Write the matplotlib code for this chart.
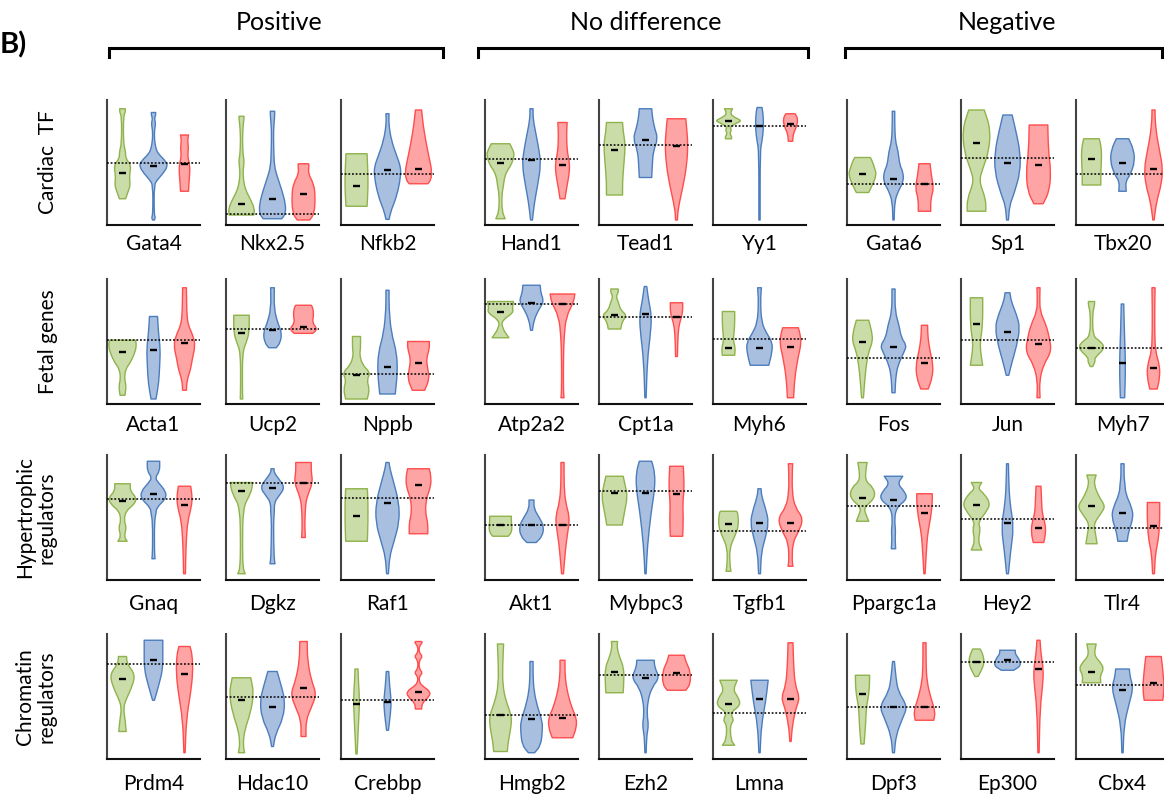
import numpy as np
import matplotlib.pyplot as plt
from matplotlib.path import Path
from matplotlib.patches import PathPatch

plt.rcParams['font.family'] = ['Lato', 'DejaVu Sans']

group_titles = ['Positive', 'No difference', 'Negative']
row_titles = ['Cardiac  TF', 'Fetal genes', 'Hypertrophic\nregulators', 'Chromatin\nregulators']

# fill / outline colours of the three violins in each panel
fills = ['#cadca8', '#a8bfdf', '#ffa4a4']
edges = ['#8fb34c', '#4b7dbd', '#ff4d4d']

# each violin: list of (value, half width) from bottom tip to top tip

# ---- Cardiac TF
tf_genes = ['Gata4', 'Nkx2.5', 'Nfkb2', 'Hand1', 'Tead1', 'Yy1', 'Gata6', 'Sp1', 'Tbx20']
tf_ref = [5.0, 0.9, 4.1, 5.3, 6.4, 7.9, 3.3, 5.4, 4.1]
tf_med = [[4.2, 4.7, 4.9], [1.7, 2.1, 2.5], [3.1, 4.4, 4.5],
          [5.0, 5.2, 4.8], [6.0, 6.8, 6.3], [8.3, 7.9, 8.1],
          [4.1, 3.7, 3.3], [6.6, 5.0, 4.8], [5.3, 5.0, 4.5]]
tf_shapes = [
    [[(2.1, .10), (2.8, .20), (3.2, .25), (3.9, .22), (4.8, .28), (5.3, .10), (5.9, .10), (6.5, .03), (8.7, .03), (9.0, .09), (9.3, .09)],
     [(0.4, .03), (0.6, .06), (0.9, .02), (3.2, .02), (3.6, .12), (4.1, .30), (4.7, .46), (5.1, .40), (5.7, .15), (6.1, .08), (6.8, .03), (7.6, .03), (8.1, .07), (8.5, .03), (8.8, .07), (9.0, .07)],
     [(2.7, .13), (3.3, .14), (4.1, .17), (4.8, .17), (5.5, .10), (6.1, .13), (6.8, .10), (7.2, .13)]],
    [[(0.8, .40), (1.3, .42), (2.0, .30), (2.8, .13), (3.6, .06), (4.4, .05), (5.1, .09), (5.6, .05), (6.8, .03), (7.9, .05), (8.5, .08), (8.7, .08)],
     [(0.5, .30), (0.9, .42), (1.7, .42), (2.8, .30), (3.9, .15), (4.7, .06), (6.0, .04), (7.6, .03), (8.7, .07), (9.1, .07)],
     [(0.4, .20), (0.9, .35), (2.3, .38), (3.3, .33), (4.1, .15), (4.8, .18), (4.9, .16)]],
    [[(1.5, .34), (2.8, .37), (4.1, .37), (5.7, .34)],
     [(0.45, .05), (1.2, .12), (2.3, .30), (3.9, .43), (4.7, .42), (5.5, .30), (6.8, .12), (8.1, .04), (8.9, .05)],
     [(3.3, .30), (3.6, .40), (4.3, .43), (5.2, .36), (6.5, .25), (8.0, .15), (9.2, .10)]],
    [[(0.5, .15), (1.1, .05), (2.4, .04), (3.2, .10), (3.7, .12), (4.3, .20), (4.8, .35), (5.6, .45), (6.0, .40), (6.5, .30)],
     [(0.4, .03), (1.9, .10), (3.2, .20), (4.8, .30), (5.9, .25), (7.2, .15), (8.5, .05), (9.3, .05)],
     [(2.1, .08), (3.2, .15), (4.3, .23), (5.1, .22), (5.9, .15), (7.2, .13), (8.2, .15)]],
    [[(2.4, .26), (3.5, .26), (4.8, .30), (6.4, .35), (7.5, .28), (8.2, .26)],
     [(3.8, .20), (4.8, .22), (5.9, .25), (6.9, .40), (7.7, .30), (8.5, .23), (9.3, .20)],
     [(0.4, .03), (1.3, .05), (3.2, .22), (4.8, .33), (6.4, .37), (7.7, .33), (8.5, .30)]],
    [[(6.9, .10), (7.1, .10), (7.3, .04), (7.6, .10), (7.85, .04), (8.2, .30), (8.35, .42), (8.6, .20), (8.9, .05), (9.3, .13)],
     [(0.4, .02), (5.9, .02), (6.7, .08), (7.7, .13), (8.8, .12), (9.4, .08)],
     [(6.7, .07), (7.3, .09), (7.9, .20), (8.5, .24), (8.9, .15)]],
    [[(2.6, .20), (3.2, .32), (4.0, .45), (4.5, .40), (5.2, .30), (5.4, .25)],
     [(0.4, .02), (1.9, .04), (2.7, .15), (3.5, .33), (4.3, .30), (4.8, .20), (5.9, .15), (6.7, .06), (8.0, .04), (9.1, .04)],
     [(1.1, .20), (2.1, .20), (2.9, .30), (4.0, .22), (4.9, .18)]],
    [[(1.1, .30), (2.1, .30), (3.5, .08), (4.5, .20), (5.9, .40), (7.7, .45), (9.2, .25)],
     [(0.4, .03), (1.6, .07), (2.4, .20), (4.3, .42), (5.9, .40), (7.2, .30), (8.8, .15)],
     [(1.7, .15), (2.7, .35), (4.3, .40), (5.9, .32), (8.0, .30)]],
    [[(3.2, .30), (4.3, .30), (5.6, .33), (6.4, .30), (6.9, .25)],
     [(2.7, .12), (3.5, .10), (4.0, .25), (5.1, .40), (6.1, .35), (6.9, .20)],
     [(0.4, .02), (1.9, .10), (3.2, .25), (4.5, .30), (5.9, .20), (7.2, .10), (8.5, .05), (9.2, .05)]],
]

# ---- Fetal genes
fetal_genes = ['Acta1', 'Ucp2', 'Nppb', 'Atp2a2', 'Cpt1a', 'Myh6', 'Fos', 'Jun', 'Myh7']
fetal_ref = [5.1, 6.0, 2.4, 8.0, 7.0, 5.2, 3.7, 5.1, 4.5]
fetal_med = [[4.2, 4.3, 4.9], [5.7, 5.9, 6.2], [2.3, 3.0, 3.3],
             [7.4, 8.1, 8.0], [7.1, 7.2, 7.0], [4.5, 4.5, 4.6],
             [5.0, 4.6, 3.3], [6.4, 5.8, 4.8], [4.5, 3.3, 2.9]]
fetal_shapes = [
    [[(0.7, .08), (1.5, .12), (2.0, .06), (2.8, .10), (3.3, .25), (4.1, .40), (4.7, .45), (5.1, .42)],
     [(0.4, .08), (1.7, .17), (3.1, .20), (4.4, .22), (5.7, .16), (7.0, .13)],
     [(1.1, .06), (1.9, .08), (2.8, .20), (3.6, .25), (4.7, .35), (5.5, .27), (6.3, .12), (7.1, .08), (7.9, .07), (9.3, .06)]],
    [[(0.4, .04), (1.2, .03), (4.1, .03), (4.9, .15), (5.7, .25), (7.1, .25)],
     [(4.5, .12), (4.9, .25), (5.7, .30), (6.4, .18), (7.6, .05), (9.3, .06)],
     [(5.65, .30), (6.0, .45), (6.5, .28), (7.1, .33), (7.7, .30), (7.9, .25)]],
    [[(0.4, .35), (1.2, .42), (1.9, .33), (2.5, .45), (3.1, .20), (3.9, .10), (4.4, .13), (5.4, .13)],
     [(0.8, .25), (2.5, .32), (4.1, .30), (5.7, .12), (7.6, .05), (9.1, .05)],
     [(1.1, .20), (2.0, .35), (2.8, .30), (3.6, .25), (4.4, .35), (5.0, .35)]],
    [[(5.3, .27), (6.1, .05), (6.7, .05), (7.3, .42), (7.7, .38), (8.2, .42)],
     [(5.9, .03), (6.7, .08), (7.5, .22), (8.2, .40), (8.9, .30), (9.5, .28)],
     [(0.5, .05), (1.0, .03), (3.5, .03), (5.4, .05), (7.0, .12), (8.1, .35), (8.8, .40)]],
    [[(6.0, .20), (6.6, .25), (7.1, .40), (7.5, .20), (8.1, .13), (8.6, .05), (8.9, .12), (9.2, .12)],
     [(0.5, .02), (3.5, .06), (5.4, .15), (7.0, .20), (8.3, .10), (9.4, .04)],
     [(3.8, .03), (5.7, .05), (6.5, .10), (7.3, .20), (8.1, .20)]],
    [[(3.9, .20), (4.5, .22), (5.1, .15), (6.2, .20), (7.4, .20)],
     [(3.1, .30), (4.1, .40), (4.9, .42), (5.7, .22), (6.5, .07), (8.1, .03), (9.3, .06)],
     [(0.5, .10), (2.2, .14), (3.8, .25), (4.9, .35), (5.7, .30), (6.1, .25)]],
    [[(0.5, .03), (1.8, .07), (3.1, .12), (4.2, .20), (5.0, .33), (5.8, .30), (6.7, .20)],
     [(0.9, .05), (2.1, .07), (3.1, .14), (4.2, .35), (4.7, .42), (5.3, .25), (6.3, .18), (7.4, .05), (9.2, .05)],
     [(1.2, .12), (2.1, .25), (3.1, .28), (4.2, .18), (5.3, .11), (6.3, .10)]],
    [[(3.1, .20), (4.2, .13), (5.0, .12), (6.3, .20), (8.5, .20)],
     [(2.3, .04), (3.4, .15), (4.7, .30), (6.1, .40), (7.1, .30), (8.2, .12), (8.9, .08)],
     [(0.5, .05), (1.8, .03), (3.1, .15), (4.2, .42), (5.3, .35), (6.3, .25), (7.4, .05), (8.5, .04), (9.3, .05)]],
    [[(3.0, .04), (3.4, .12), (3.7, .10), (4.5, .45), (5.1, .25), (5.4, .05), (7.2, .03), (7.9, .10), (8.2, .10)],
     [(0.5, .07), (3.1, .10), (5.8, .06), (8.0, .04)],
     [(1.2, .12), (2.1, .20), (3.1, .20), (4.2, .06), (5.8, .04), (7.7, .04), (9.3, .05)]],
]

# ---- Hypertrophic regulators
hyp_genes = ['Gnaq', 'Dgkz', 'Raf1', 'Akt1', 'Mybpc3', 'Tgfb1', 'Ppargc1a', 'Hey2', 'Tlr4']
hyp_ref = [6.5, 7.8, 6.6, 4.4, 7.1, 3.9, 5.9, 4.9, 4.2]
hyp_med = [[6.3, 6.9, 6.0], [7.1, 7.4, 7.8], [5.1, 6.2, 7.6],
           [4.4, 4.4, 4.4], [7.0, 7.0, 6.9], [4.5, 4.6, 4.6],
           [6.6, 6.4, 5.4], [6.0, 4.6, 4.2], [5.9, 5.4, 4.3]]
hyp_shapes = [
    [[(3.1, .15), (3.5, .05), (4.2, .13), (4.7, .05), (5.5, .10), (6.1, .40), (6.6, .45), (7.1, .25), (7.7, .25)],
     [(1.7, .05), (2.3, .03), (4.7, .03), (5.3, .08), (5.8, .10), (6.5, .40), (7.1, .40), (7.8, .15), (8.2, .05), (8.7, .20), (9.5, .20)],
     [(0.5, .03), (2.9, .05), (4.7, .10), (5.8, .22), (6.6, .25), (7.5, .20)]],
    [[(0.5, .12), (0.9, .05), (2.7, .03), (5.8, .05), (6.7, .25), (7.4, .35), (7.8, .35)],
     [(1.3, .08), (1.8, .05), (4.6, .03), (5.4, .06), (6.2, .06), (6.7, .20), (7.4, .40), (8.1, .20), (8.6, .05), (8.9, .05)],
     [(3.4, .06), (4.3, .04), (5.9, .06), (6.7, .12), (7.8, .30), (8.6, .25), (9.4, .25)]],
    [[(3.1, .35), (4.6, .37), (6.2, .37), (7.3, .35)],
     [(0.5, .03), (1.9, .07), (3.0, .20), (4.6, .38), (6.2, .37), (7.8, .20), (8.9, .08), (9.4, .05)],
     [(3.7, .30), (4.6, .30), (5.4, .22), (6.5, .25), (7.5, .40), (8.3, .40), (8.9, .35)]],
    [[(3.5, .25), (3.8, .35), (4.2, .37), (4.6, .35), (5.1, .35)],
     [(3.0, .15), (3.5, .35), (4.3, .40), (5.0, .25), (5.7, .08), (6.4, .08)],
     [(0.5, .03), (1.7, .07), (3.0, .12), (4.3, .20), (5.1, .22), (6.2, .10), (7.5, .05), (9.4, .05)]],
    [[(4.4, .25), (5.4, .32), (6.7, .42), (7.5, .35), (8.3, .28)],
     [(0.5, .02), (2.7, .06), (5.4, .18), (7.3, .30), (8.6, .30), (9.5, .20)],
     [(3.5, .20), (4.9, .22), (6.2, .20), (7.3, .25), (9.1, .22)]],
    [[(0.7, .08), (1.1, .05), (2.5, .03), (3.5, .20), (4.3, .33), (5.4, .30), (5.5, .25)],
     [(0.5, .03), (2.2, .06), (3.3, .18), (4.6, .30), (5.7, .20), (6.7, .07), (7.3, .05)],
     [(1.1, .08), (1.5, .05), (3.0, .07), (3.8, .25), (4.9, .42), (5.8, .15), (7.0, .05), (8.9, .06), (9.3, .07)]],
    [[(4.7, .20), (5.3, .10), (5.8, .05), (6.6, .42), (7.4, .35), (7.9, .10), (8.7, .10), (9.4, .15)],
     [(2.5, .07), (3.4, .05), (3.9, .07), (4.9, .03), (5.8, .10), (6.5, .45), (7.1, .35), (7.7, .13), (8.3, .30)],
     [(0.5, .02), (2.3, .06), (3.7, .10), (5.0, .20), (6.1, .25), (6.9, .25)]],
    [[(2.4, .17), (3.1, .05), (4.1, .13), (4.6, .05), (5.4, .30), (6.1, .45), (6.9, .25), (7.3, .05), (7.8, .17)],
     [(0.5, .03), (2.3, .10), (4.2, .20), (5.8, .10), (7.1, .05), (9.3, .03)],
     [(3.0, .17), (3.7, .23), (4.5, .22), (5.3, .12), (6.3, .10), (7.5, .08)]],
    [[(2.9, .18), (3.7, .13), (4.5, .07), (5.3, .30), (5.9, .45), (6.6, .25), (7.7, .07), (8.4, .15)],
     [(3.1, .15), (3.9, .20), (5.0, .35), (5.8, .30), (6.9, .10), (7.7, .08), (8.2, .05), (9.3, .05)],
     [(0.5, .03), (2.1, .06), (3.1, .15), (4.5, .20), (5.8, .20), (6.2, .20)]],
]

# ---- Chromatin regulators
chrom_genes = ['Prdm4', 'Hdac10', 'Crebbp', 'Hmgb2', 'Ezh2', 'Lmna', 'Dpf3', 'Ep300', 'Cbx4']
chrom_ref = [7.6, 5.0, 4.7, 3.5, 6.7, 3.7, 4.2, 7.8, 5.9]
chrom_med = [[6.4, 7.9, 6.8], [4.7, 4.2, 5.7], [4.4, 4.6, 5.4],
             [3.5, 3.2, 3.3], [7.0, 6.5, 6.9], [4.4, 4.8, 4.8],
             [5.2, 4.2, 4.2], [7.8, 7.9, 7.2], [7.0, 5.5, 6.1]]
chrom_shapes = [
    [[(2.2, .12), (3.2, .08), (4.1, .03), (4.8, .12), (5.9, .33), (6.8, .40), (7.6, .15), (8.2, .13)],
     [(4.7, .03), (5.9, .17), (7.2, .30), (8.5, .30), (9.5, .30)],
     [(0.5, .02), (3.2, .06), (5.3, .20), (6.9, .27), (8.3, .25), (9.0, .18)]],
    [[(0.5, .10), (1.2, .05), (2.3, .10), (3.6, .28), (5.2, .40), (6.5, .30)],
     [(1.0, .03), (2.0, .10), (3.3, .35), (4.7, .40), (5.7, .30), (7.0, .15)],
     [(1.8, .08), (3.1, .08), (4.1, .25), (5.2, .42), (6.3, .25), (7.9, .13), (9.4, .12)]],
    [[(0.4, .02), (3.1, .07), (4.7, .10), (6.3, .06), (7.2, .05)],
     [(2.3, .03), (3.7, .10), (4.7, .12), (5.8, .07), (7.0, .04)],
     [(4.0, .10), (4.5, .12), (5.0, .35), (5.4, .38), (5.8, .15), (6.1, .03), (6.6, .02), (6.9, .14), (7.2, .02),
      (7.9, .02), (8.2, .14), (8.5, .02), (9.0, .02), (9.3, .12), (9.4, .10)]],
    [[(0.6, .22), (1.4, .25), (2.7, .35), (3.5, .35), (4.6, .18), (5.9, .07), (7.5, .07), (9.2, .10)],
     [(0.5, .10), (1.1, .30), (2.2, .35), (3.0, .35), (4.1, .20), (5.4, .08), (6.7, .05), (7.8, .05)],
     [(1.7, .33), (2.5, .45), (3.3, .45), (4.1, .30), (5.4, .15), (6.7, .08), (7.9, .08)]],
    [[(5.3, .28), (6.2, .30), (7.3, .30), (8.1, .17), (8.9, .08), (9.4, .10)],
     [(0.5, .02), (1.9, .04), (2.7, .10), (3.5, .05), (4.6, .07), (5.7, .20), (6.5, .45), (7.3, .30), (7.9, .28)],
     [(5.5, .30), (6.0, .45), (7.0, .45), (7.8, .30), (8.3, .25)]],
    [[(1.1, .20), (1.5, .08), (2.7, .05), (3.1, .18), (3.7, .05), (4.3, .40), (5.0, .30), (5.5, .15), (6.3, .28)],
     [(0.5, .02), (2.7, .06), (4.6, .20), (6.3, .28)],
     [(1.4, .02), (2.7, .06), (4.1, .18), (4.9, .30), (5.9, .15), (7.5, .10), (9.3, .08)]],
    [[(1.2, .05), (2.7, .10), (4.1, .12), (5.4, .22), (6.7, .23)],
     [(0.5, .03), (1.9, .08), (3.3, .30), (4.2, .45), (5.4, .15), (6.5, .08), (7.8, .03)],
     [(3.1, .30), (3.8, .35), (4.9, .20), (6.2, .08), (7.5, .05), (9.3, .05)]],
    [[(6.6, .05), (7.3, .20), (7.8, .25), (8.4, .20), (8.8, .12)],
     [(7.1, .20), (7.5, .45), (8.1, .35), (8.4, .25), (8.7, .25)],
     [(0.5, .02), (4.1, .05), (6.2, .15), (7.3, .15), (8.4, .08), (9.5, .05)]],
    [[(6.1, .30), (6.7, .28), (7.2, .40), (7.7, .30), (8.3, .08), (9.2, .15)],
     [(0.5, .02), (2.7, .05), (4.3, .20), (5.7, .35), (6.5, .25), (7.2, .22)],
     [(4.7, .30), (5.7, .35), (7.1, .30), (8.2, .25)]],
]

rows = [
    (tf_genes, tf_ref, tf_med, tf_shapes),
    (fetal_genes, fetal_ref, fetal_med, fetal_shapes),
    (hyp_genes, hyp_ref, hyp_med, hyp_shapes),
    (chrom_genes, chrom_ref, chrom_med, chrom_shapes),
]


def side(xs, ys):
    # one outline side: straight start/end, quadratic curves through the knots
    verts = [(xs[0], ys[0])]
    codes = [Path.LINETO]
    if len(xs) > 2:
        verts.append(((xs[0] + xs[1]) / 2, (ys[0] + ys[1]) / 2))
        codes.append(Path.LINETO)
        for i in range(1, len(xs) - 1):
            verts += [(xs[i], ys[i]), ((xs[i] + xs[i + 1]) / 2, (ys[i] + ys[i + 1]) / 2)]
            codes += [Path.CURVE3, Path.CURVE3]
    verts.append((xs[-1], ys[-1]))
    codes.append(Path.LINETO)
    return verts, codes


def violin(ax, pos, prof, fc, ec):
    prof = np.array(prof)
    y, w = prof[:, 0], prof[:, 1]
    rv, rc = side(pos + w, y)
    lv, lc = side((pos - w)[::-1], y[::-1])
    verts = rv + lv + [rv[0]]
    codes = [Path.MOVETO] + rc[1:] + lc + [Path.CLOSEPOLY]
    ax.add_patch(PathPatch(Path(verts, codes), facecolor=fc, edgecolor=ec,
                           lw=1.0, joinstyle='round', zorder=2))


W, H = 1164, 797
fig = plt.figure(figsize=(W / 100, H / 100), dpi=100)

# panel layout in pixels
col_left = [107, 226, 341, 485, 599, 713, 847, 961, 1076]
row_bottom = [225, 404, 580, 759]
row_label_y = [244, 425, 604, 784]
pw, ph = 93, 125

ov = fig.add_axes([0, 0, 1, 1], zorder=-1)
ov.set_xlim(0, W)
ov.set_ylim(H, 0)
ov.axis('off')

for r, (genes, ref, med, shapes) in enumerate(rows):
    for c, gene in enumerate(genes):
        ax = fig.add_axes([col_left[c] / W, 1 - row_bottom[r] / H, pw / W, ph / H])
        for k in range(3):
            violin(ax, k + 1, shapes[c][k], fills[k], edges[k])
            ax.plot([k + 1 - 0.12, k + 1 + 0.12], [med[c][k]] * 2, color='black',
                    lw=1.7, solid_capstyle='butt', zorder=4)
        ax.axhline(ref[c], color='black', ls=(0, (1.2, 1.2)), lw=1.1, zorder=3)
        ax.set_xlim(0.5, 3.5)
        ax.set_ylim(0, 10)
        ax.set_xticks([])
        ax.set_yticks([])
        for s in ['top', 'right']:
            ax.spines[s].set_visible(False)
        ax.spines['left'].set_color('#444444')
        ax.spines['bottom'].set_color('#111111')
        ax.spines['left'].set_linewidth(1.5)
        ax.spines['bottom'].set_linewidth(1.5)
        ov.text(col_left[c] + pw / 2, row_label_y[r], gene, ha='center', va='center', fontsize=15)

# group titles with brackets
brackets = [(109, 443), (478, 808), (845, 1162)]
for title, (x0, x1) in zip(group_titles, brackets):
    ov.plot([x0, x0, x1, x1], [57, 48, 48, 57], color='black', lw=2.2, solid_joinstyle='miter')
    ov.text((x0 + x1) / 2 + 3, 22, title, ha='center', va='center', fontsize=18)

row_label_x = [48, 48, 36, 36]
for r, t in enumerate(row_titles):
    ov.text(row_label_x[r], row_bottom[r] - ph / 2, t, rotation=90, ha='center', va='center',
            multialignment='center', fontsize=15, linespacing=1.1)

ov.text(0, 45, 'B)', ha='left', va='center', fontsize=21, fontweight='bold')

fig.savefig('out.png', dpi=100)
